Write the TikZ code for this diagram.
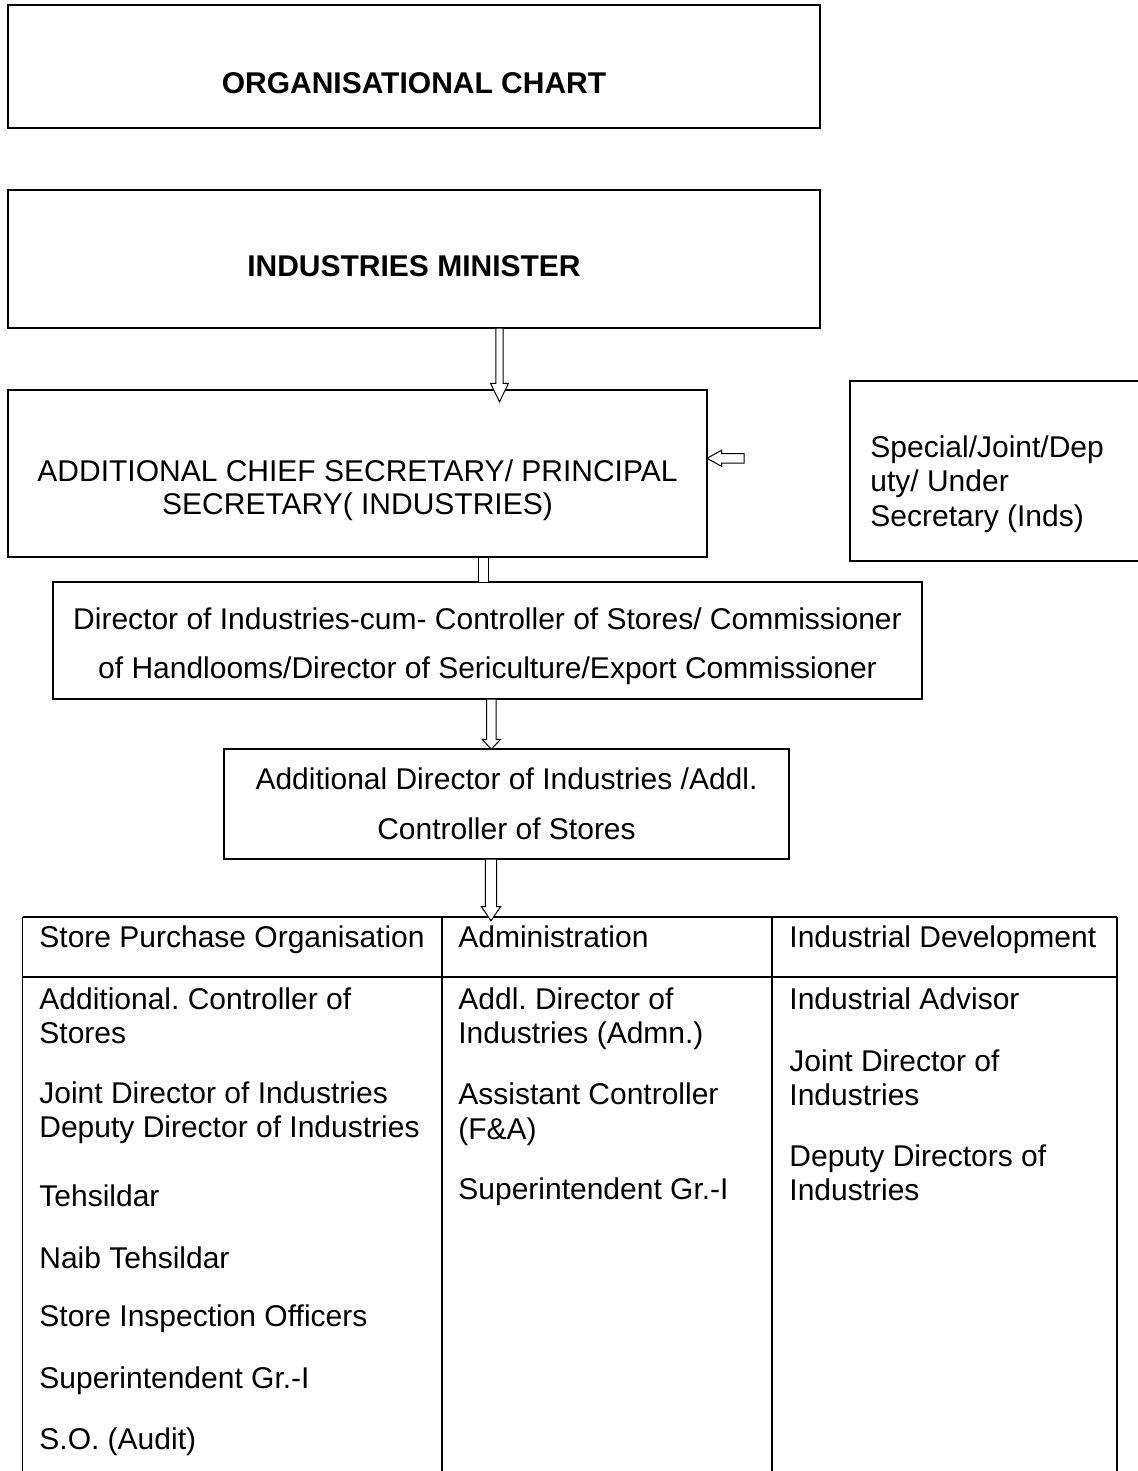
\documentclass[tikz,border=0pt]{standalone}
\usepackage{fontspec}
\setmainfont{Liberation Sans}
\usetikzlibrary{calc}
\frenchspacing
\tikzset{
  pics/downarrow/.style args={#1/#2/#3/#4}{% length/shaft half width/head half width/head length
    code={\path[hollow] (-#2,0) -- (-#2,#1-#4) -- (-#3,#1-#4) -- (0,#1) -- (#3,#1-#4) -- (#2,#1-#4) -- (#2,0) -- cycle;}},
  pics/leftarrow/.style args={#1/#2/#3/#4}{%
    code={\path[hollow] (0,0) -- (#4,-#3) -- (#4,-#2) -- (#1,-#2) -- (#1,#2) -- (#4,#2) -- (#4,#3) -- cycle;}},
}
\begin{document}
\frenchspacing
\begin{tikzpicture}[x=0.5pt,y=-0.5pt,
  box/.style={draw, line width=0.75pt, inner sep=0pt, outer sep=0pt},
  thinbox/.style={draw, line width=0.55pt, inner sep=0pt, outer sep=0pt},
  hollow/.style={draw, line width=0.5pt, fill=white, line join=miter},
  tableline/.style={line width=0.85pt},
  ttl/.style={font=\fontsize{15}{18}\selectfont\bfseries, inner sep=0pt},
  para/.style={inner sep=0pt, align=left, anchor=north west, font=\fontsize{15}{17.25}\selectfont\frenchspacing},
  cpara/.style={inner sep=0pt, align=center, anchor=north},
]
\useasboundingbox (0,0) rectangle (1137,1471);

% boxes
\node[box, minimum width=406pt, minimum height=61.5pt] (title) at (414,66.5) {};
\node[box, minimum width=406pt, minimum height=69pt] (minister) at (414,259) {};
\node[box, minimum width=349.5pt, minimum height=83.5pt] (acs) at (357.5,473.5) {};
\node[inner sep=0pt, outer sep=0pt, minimum width=150pt, minimum height=90pt] (special) at (1000,471) {};
\draw[line width=0.75pt] (special.north east) -- (special.north west) -- (special.south west) -- (special.south east);
\node[thinbox, minimum width=434.5pt, minimum height=58.5pt] (director) at (487.5,640.5) {};
\node[thinbox, minimum width=282.5pt, minimum height=55pt] (addl) at (506.5,804) {};

% table
\coordinate (tnw) at (22.5,917);
\coordinate (tne) at (1117,917);
\coordinate (c1) at (442,917);
\coordinate (c2) at (772,917);
\draw[tableline] (tnw) -- (tne);
\draw[tableline] ($(tnw)+(0,60)$) -- ($(tne)+(0,60)$);
\draw[tableline] (tnw) -- ++(0,560);
\draw[tableline] (c1) -- ++(0,560);
\draw[tableline] (c2) -- ++(0,560);
\draw[tableline] (tne) -- ++(0,560);

% connectors
\pic at ($(minister.south)+(85.5,0)$) {downarrow={73.7/3.7/9/18.4}};
\path[hollow] ($(acs.south)+(120.8,0)$) rectangle ++(10,25);
\pic at ($(director.south)+(3.8,0)$) {downarrow={50.3/4.7/9.2/10}};
\pic at ($(addl.south)+(-15.5,0)$) {downarrow={61.7/5.7/9.6/14}};
\pic at ($(acs.east)+(0,-15.2)$) {leftarrow={37/4.7/8/14.5}};

% texts
\node[ttl] (titletext) at (414,83) {ORGANISATIONAL CHART};
\node[ttl] (ministertext) at (414,266) {INDUSTRIES MINISTER};
\node[cpara, font=\fontsize{15}{16.5}\selectfont] (acstext) at (357.5,457.6)
  {\strut ADDITIONAL CHIEF SECRETARY/ PRINCIPAL\\\strut SECRETARY( INDUSTRIES)};
\node[para] (specialtext) at (870,432.6)
  {\strut Special/Joint/Dep\\\strut uty/ Under\\\strut Secretary (Inds)};
\node[cpara, font=\fontsize{15}{24.5}\selectfont] (directortext) at (487.5,594.4)
  {\strut Director of Industries-cum- Controller of Stores/ Commissioner\\\strut of Handlooms/Director of Sericulture/Export Commissioner};
\node[cpara, font=\fontsize{15}{25}\selectfont\frenchspacing] (addltext) at (506.5,753.7)
  {\strut Additional Director of Industries /Addl.\\\strut Controller of Stores};

% table headers
\node[para] (h1) at (39,922.6) {\strut Store Purchase Organisation};
\node[para] (h2) at (458,922.6) {\strut Administration};
\node[para] (h3) at (789,922.6) {\strut Industrial Development};

% column 1
\node[para] (a1) at (39,984.6) {\strut Additional. Controller of\\\strut Stores};
\node[para] (a2) at (39,1078.6) {\strut Joint Director of Industries\\\strut Deputy Director of Industries};
\node[para] (a3) at (39,1181.6) {\strut Tehsildar};
\node[para] (a4) at (39,1243.6) {\strut Naib Tehsildar};
\node[para] (a5) at (39,1301.6) {\strut Store Inspection Officers};
\node[para] (a6) at (39,1363.6) {\strut Superintendent Gr.-I};
\node[para] (a7) at (39,1424.6) {\strut S.O. (Audit)};

% column 2
\node[para] (b1) at (458,984.6) {\strut Addl. Director of\\\strut Industries (Admn.)};
\node[para] (b2) at (458,1080) {\strut Assistant Controller\\\strut (F\&A)};
\node[para] (b3) at (458,1175) {\strut Superintendent Gr.-I};

% column 3
\node[para] (d1) at (789,984.6) {\strut Industrial Advisor};
\node[para] (d2) at (789,1046.6) {\strut Joint Director of\\\strut Industries};
\node[para] (d3) at (789,1141.6) {\strut Deputy Directors of\\\strut Industries};
\end{tikzpicture}
\end{document}
